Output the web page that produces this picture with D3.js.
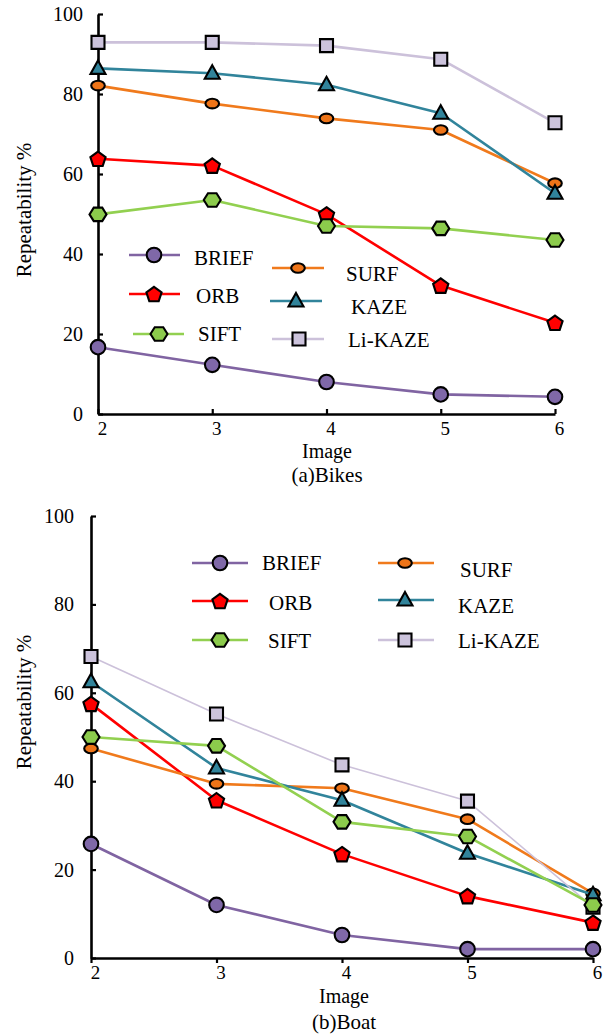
<!DOCTYPE html>
<html>
<head>
<meta charset="utf-8">
<script src="https://cdn.jsdelivr.net/npm/d3@7"></script>
<style>
  html, body { margin: 0; padding: 0; background: #fff; }
  svg { display: block; }
</style>
</head>
<body>
<svg id="chart" width="613" height="1036"></svg>
<script>
// ---------------- DATA ----------------
const images = [2, 3, 4, 5, 6];
const yTicks = [0, 20, 40, 60, 80, 100];
const methods = ["BRIEF", "ORB", "SIFT", "SURF", "KAZE", "Li-KAZE"];

// (a) Bikes
const bikesBRIEF  = [16.7, 12.3, 8.0, 4.9, 4.3];
const bikesORB    = [63.8, 62.1, 49.9, 32.1, 22.8];
const bikesSIFT   = [49.9, 53.5, 47.0, 46.4, 43.5];
const bikesSURF   = [82.1, 77.6, 73.9, 71.0, 57.7];
const bikesKAZE   = [86.4, 85.2, 82.3, 75.2, 55.2];
const bikesLiKAZE = [92.9, 92.9, 92.1, 88.7, 72.8];

// (b) Boat
const boatBRIEF  = [25.8, 12.0, 5.2, 2.0, 2.0];
const boatORB    = [57.5, 35.7, 23.5, 14.0, 8.0];
const boatSIFT   = [50.0, 48.0, 30.8, 27.5, 12.0];
const boatSURF   = [47.4, 39.4, 38.4, 31.4, 14.6];
const boatKAZE   = [62.5, 43.0, 35.7, 23.7, 14.3];
const boatLiKAZE = [68.2, 55.2, 43.7, 35.5, 11.5];

const xTitle = "Image";
const yTitle = "Repeatability %";
const captions = ["(a)Bikes", "(b)Boat"];

// ---------------- STYLES ----------------
const lineColor = {
  "BRIEF": "#8064a2", "ORB": "#ff0000", "SIFT": "#92d050",
  "SURF": "#f07a1c", "KAZE": "#31849b", "Li-KAZE": "#ccc1da"
};
const markFill = {
  "BRIEF": "#7f68a8", "ORB": "#ff0000", "SIFT": "#8ccb4c",
  "SURF": "#ee7418", "KAZE": "#31849b", "Li-KAZE": "#ccc3dc"
};
const markShape = {
  "BRIEF": "circle", "ORB": "pentagon", "SIFT": "hexagon",
  "SURF": "ellipse", "KAZE": "triangle", "Li-KAZE": "square"
};
const FONT = '"Liberation Serif", "Times New Roman", serif';

function polyPath(pts) {
  return "M" + pts.map(p => p[0].toFixed(2) + "," + p[1].toFixed(2)).join("L") + "Z";
}
function shapePath(shape) {
  if (shape === "circle") {
    const r = 7.3;
    return `M${-r},0A${r},${r} 0 1,0 ${r},0A${r},${r} 0 1,0 ${-r},0Z`;
  }
  if (shape === "ellipse") {
    const rx = 6.8, ry = 4.8;
    return `M${-rx},0A${rx},${ry} 0 1,0 ${rx},0A${rx},${ry} 0 1,0 ${-rx},0Z`;
  }
  if (shape === "pentagon") {
    const r = 8, pts = [];
    for (let i = 0; i < 5; i++) {
      const a = -Math.PI / 2 + i * 2 * Math.PI / 5;
      pts.push([r * Math.cos(a), r * Math.sin(a) + 0.8]);
    }
    return polyPath(pts);
  }
  if (shape === "hexagon") {
    const r = 8.5, pts = [];
    for (let i = 0; i < 6; i++) {
      const a = i * Math.PI / 3;
      pts.push([r * Math.cos(a), r * Math.sin(a) * 0.92]);
    }
    return polyPath(pts);
  }
  if (shape === "triangle") {
    return polyPath([[0, -8], [7.5, 5.5], [-7.5, 5.5]]);
  }
  if (shape === "square") {
    const h = 6.5;
    return polyPath([[-h, -h], [h, -h], [h, h], [-h, h]]);
  }
}

const svg = d3.select("#chart");
svg.append("rect").attr("width", 613).attr("height", 1036).attr("fill", "#fff");

function drawChart(cfg) {
  const x = d3.scaleLinear().domain([images[0], images[images.length - 1]]).range(cfg.xRange);
  const y = d3.scaleLinear().domain([0, 100]).range(cfg.yRange);
  const g = svg.append("g");

  // axes
  const yAxis = d3.axisLeft(y).tickValues(yTicks).tickFormat(d3.format("d"))
    .tickSizeInner(-5).tickSizeOuter(0).tickPadding(cfg.yPad);
  const gy = g.append("g").attr("transform", `translate(${cfg.xRange[0]},0)`).call(yAxis);
  const xAxis = d3.axisBottom(x).tickValues(images).tickFormat(d3.format("d"))
    .tickSizeInner(cfg.xTick).tickSizeOuter(0)
    .tickPadding(cfg.xTick > 0 ? 8 - cfg.xTick : 8);
  const gx = g.append("g").attr("transform", `translate(0,${cfg.yRange[0]})`).call(xAxis);
  gy.attr("font-family", null).attr("font-size", 20);
  gx.attr("font-family", null).attr("font-size", 19);
  [gx, gy].forEach(a => {
    a.select(".domain").attr("stroke", "#000").attr("stroke-width", 2.6);
    a.selectAll(".tick line").attr("stroke", "#000").attr("stroke-width", 2.2);
    a.selectAll(".tick text").attr("fill", "#000");
  });
  gx.selectAll(".tick text").attr("dx", 4);

  // titles
  g.append("text").attr("x", cfg.titleX).attr("y", cfg.xTitleY)
    .attr("text-anchor", "middle").attr("font-size", 20).text(xTitle);
  g.append("text").attr("x", cfg.titleX).attr("y", cfg.captionY)
    .attr("text-anchor", "middle").attr("font-size", 21).text(cfg.caption);
  g.append("text").attr("transform", `translate(31,${cfg.yTitleY}) rotate(-90)`)
    .attr("text-anchor", "middle").attr("font-size", 21).text(yTitle);

  // series
  const line = d3.line().x((d, i) => x(images[i])).y(d => y(d));
  cfg.order.forEach(m => {
    const vals = cfg.series[m];
    const sg = g.append("g");
    sg.append("path").attr("d", line(vals)).attr("fill", "none")
      .attr("stroke", lineColor[m]).attr("stroke-width", cfg.lw[m] || 2.6)
      .attr("stroke-linejoin", "round");
    sg.selectAll("path.mk").data(vals).join("path").attr("class", "mk")
      .attr("d", shapePath(markShape[m]))
      .attr("transform", (d, i) => `translate(${x(images[i])},${y(d)})`)
      .attr("fill", markFill[m]).attr("stroke", "#000").attr("stroke-width", 2.1)
      .attr("stroke-linejoin", "miter");
  });

  // legend
  cfg.legend.forEach(L => {
    const lg = g.append("g");
    lg.append("line").attr("x1", L.x1).attr("x2", L.x2).attr("y1", L.y).attr("y2", L.y)
      .attr("stroke", lineColor[L.m]).attr("stroke-width", 2.6);
    lg.append("path").attr("d", shapePath(markShape[L.m]))
      .attr("transform", `translate(${L.mx},${L.y})`)
      .attr("fill", markFill[L.m]).attr("stroke", "#000").attr("stroke-width", 2.1);
    lg.append("text").attr("x", L.tx).attr("y", L.ty).attr("font-size", 21).text(L.m);
  });
}

drawChart({
  xRange: [98, 555], yRange: [414, 14], yPad: 15, xTick: -5,
  titleX: 327, xTitleY: 458, captionY: 482, yTitleY: 210, caption: captions[0],
  series: { "BRIEF": bikesBRIEF, "ORB": bikesORB, "SIFT": bikesSIFT, "SURF": bikesSURF, "KAZE": bikesKAZE, "Li-KAZE": bikesLiKAZE },
  order: ["BRIEF", "ORB", "SURF", "KAZE", "Li-KAZE", "SIFT"],
  lw: {},
  legend: [
    { m: methods[0], x1: 129, x2: 180, mx: 154, y: 255, tx: 194, ty: 265 },
    { m: methods[1], x1: 129, x2: 180, mx: 154, y: 294, tx: 196, ty: 303 },
    { m: methods[2], x1: 133, x2: 184, mx: 159, y: 334, tx: 198, ty: 341 },
    { m: methods[3], x1: 272, x2: 324, mx: 298, y: 268, tx: 346, ty: 281 },
    { m: methods[4], x1: 270, x2: 322, mx: 296, y: 301, tx: 351, ty: 314 },
    { m: methods[5], x1: 272, x2: 324, mx: 299, y: 339, tx: 348, ty: 347 }
  ]
});

drawChart({
  xRange: [91, 593], yRange: [958, 516], yPad: 17, xTick: 5,
  titleX: 344, xTitleY: 1003, captionY: 1029, yTitleY: 702, caption: captions[1],
  series: { "BRIEF": boatBRIEF, "ORB": boatORB, "SIFT": boatSIFT, "SURF": boatSURF, "KAZE": boatKAZE, "Li-KAZE": boatLiKAZE },
  order: ["BRIEF", "ORB", "SURF", "KAZE", "Li-KAZE", "SIFT"],
  lw: { "Li-KAZE": 1.6 },
  legend: [
    { m: methods[0], x1: 192, x2: 248, mx: 220, y: 563, tx: 262, ty: 570 },
    { m: methods[1], x1: 192, x2: 248, mx: 220, y: 601, tx: 269, ty: 610 },
    { m: methods[2], x1: 192, x2: 248, mx: 220, y: 640, tx: 268, ty: 648 },
    { m: methods[3], x1: 378, x2: 434, mx: 405, y: 563, tx: 460, ty: 577 },
    { m: methods[4], x1: 378, x2: 434, mx: 405, y: 600, tx: 458, ty: 613 },
    { m: methods[5], x1: 378, x2: 434, mx: 405, y: 640, tx: 458, ty: 648 }
  ]
});

// apply the serif font to every text
svg.selectAll("text").style("font-family", FONT).attr("fill", "#000");
</script>
</body>
</html>
